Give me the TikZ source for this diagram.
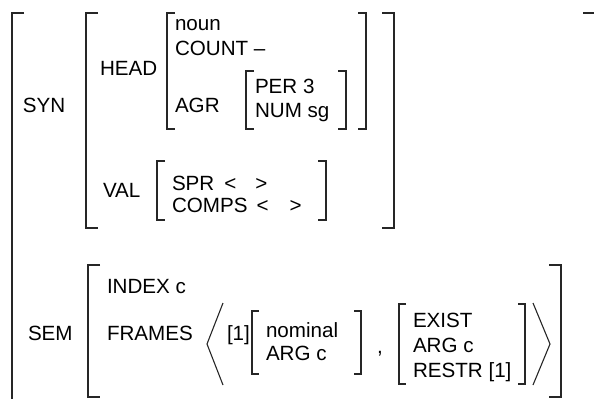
\documentclass[tikz,border=0pt]{standalone}
\usepackage{fontspec}
\setmainfont{Liberation Sans}
\begin{document}
\begin{tikzpicture}[x=1pt,y=-1pt,
  brk/.style={line width=1.5pt,color=black!85},
  ang/.style={line width=1.1pt,color=black!85,line join=miter},
  lab/.style={anchor=base west,inner sep=0pt,outer sep=0pt,font=\fontsize{20.6}{24}\selectfont}]
\useasboundingbox (0,0) rectangle (594,399);
% outer brackets
\draw[brk] (24,13) -- (12,13) -- (12,399);
\draw[brk] (583,13) -- (594,13);
% SYN bracket
\draw[brk] (98,13) -- (86,13) -- (86,228) -- (98,228);
\draw[brk] (382,13) -- (394,13) -- (394,228) -- (382,228);
% HEAD bracket
\draw[brk] (175,13) -- (167,13) -- (167,129) -- (175,129);
\draw[brk] (358,13) -- (366,13) -- (366,129) -- (358,129);
% AGR bracket
\draw[brk] (254,71) -- (246,71) -- (246,129) -- (254,129);
\draw[brk] (338,71) -- (346,71) -- (346,129) -- (338,129);
% VAL bracket
\draw[brk] (165,161) -- (157,161) -- (157,220) -- (165,220);
\draw[brk] (318,161) -- (326,161) -- (326,220) -- (318,220);
% SEM bracket
\draw[brk] (100,265) -- (88,265) -- (88,397) -- (100,397);
\draw[brk] (549,265) -- (561,265) -- (561,397) -- (549,397);
% nominal bracket
\draw[brk] (259,311) -- (252,311) -- (252,374) -- (259,374);
\draw[brk] (354,311) -- (361,311) -- (361,374) -- (354,374);
% EXIST bracket
\draw[brk] (406,304) -- (399,304) -- (399,384) -- (406,384);
\draw[brk] (518,304) -- (525,304) -- (525,384) -- (518,384);
% angle brackets
\draw[ang] (223,303) -- (207,344) -- (223,385);
\draw[ang] (533,303) -- (550,344) -- (533,385);
% texts
\node[lab] (syn) at (23,112) {SYN};
\node[lab] (head) at (100,75) {HEAD};
\node[lab] (noun) at (175,30) {noun};
\node[lab] (count) at (175,55) {COUNT –};
\node[lab] (agr) at (175,112) {AGR};
\node[lab] (per) at (255,93) {PER 3};
\node[lab] (num) at (255,117) {NUM sg};
\node[lab] (val) at (103,197) {VAL};
\node[lab] (spr) at (172,190) {SPR\hspace{10pt}<\hspace{19pt}>};
\node[lab] (comps) at (172,212) {COMPS\hspace{9pt}<\hspace{21pt}>};
\node[lab] (sem) at (28,340) {SEM};
\node[lab] (index) at (107,293) {INDEX c};
\node[lab] (frames) at (107,340) {FRAMES};
\node[lab] (tag) at (227,340) {[1]};
\node[lab] (nominal) at (266,337) {nominal};
\node[lab] (argc1) at (266,360) {ARG c};
\node[lab] (comma) at (377,353) {,};
\node[lab] (exist) at (413,327) {EXIST};
\node[lab] (argc2) at (413,352) {ARG c};
\node[lab] (restr) at (413,377) {RESTR [1]};
\end{tikzpicture}
\end{document}
